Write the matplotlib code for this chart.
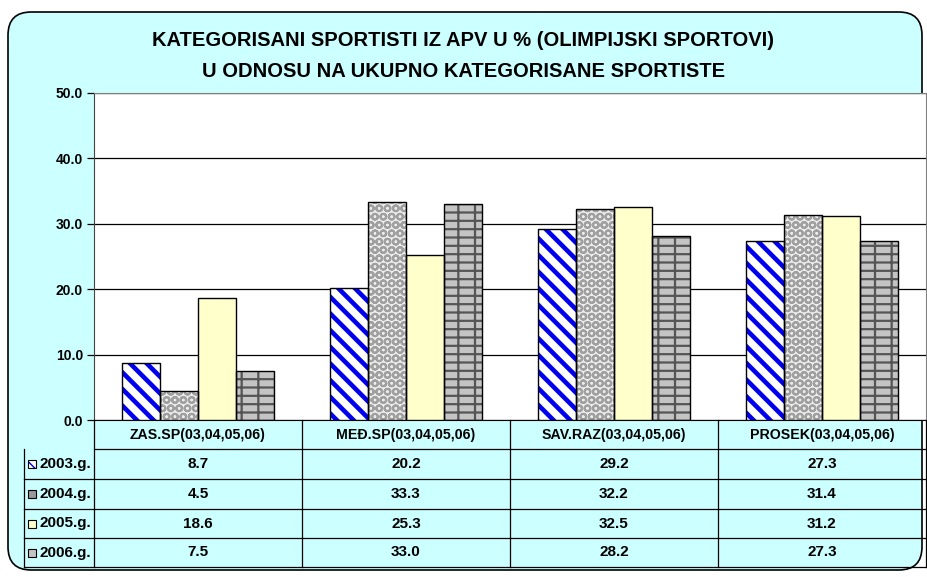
import numpy as np
import matplotlib
matplotlib.use("Agg")
import matplotlib.pyplot as plt
from matplotlib.patches import FancyBboxPatch, Rectangle
from matplotlib.lines import Line2D

# podaci
categories = ["ZAS.SP(03,04,05,06)", "MEĐ.SP(03,04,05,06)", "SAV.RAZ(03,04,05,06)", "PROSEK(03,04,05,06)"]
series_names = ["2003.g.", "2004.g.", "2005.g.", "2006.g."]
v2003 = [8.7, 20.2, 29.2, 27.3]
v2004 = [4.5, 33.3, 32.2, 31.4]
v2005 = [18.6, 25.3, 32.5, 31.2]
v2006 = [7.5, 33.0, 28.2, 27.3]
values = [v2003, v2004, v2005, v2006]
yticks = [0, 10, 20, 30, 40, 50]

title = "KATEGORISANI SPORTISTI IZ APV U % (OLIMPIJSKI SPORTOVI)\nU ODNOSU NA UKUPNO KATEGORISANE SPORTISTE"

# stilovi: (boja, šrafura, boja šrafure, debljina)
styles = [
    ("white", "\\\\", "#0000EE", 3.3),
    ("#EEEEEE", "OO", "#A0A0A0", 1.5),
    ("#FFFFCC", "", "black", 1.0),
    ("#C4C4C4", "--|", "#555555", 1.6),
]

W, H = 927, 577
fig = plt.figure(figsize=(W / 100, H / 100), dpi=100)
plt.rcParams["font.family"] = ["Liberation Sans", "DejaVu Sans"]


def fx(x):
    return x / W


def fy(y):
    return 1 - y / H


# pozadina - zaobljeni okvir
box = FancyBboxPatch((fx(8), fy(570)), fx(914), (570 - 12) / H,
                     boxstyle="round,pad=0,rounding_size=0.025",
                     transform=fig.transFigure, facecolor="#CCFFFF",
                     edgecolor="black", linewidth=1.2, mutation_aspect=W / H, zorder=-5)
fig.add_artist(box)

fig.text(0.5, fy(56), title, ha="center", va="center", fontsize=14.5,
         fontweight="bold", linespacing=1.75)

left, top, right, bottom = 94, 93, 926, 420
ax = fig.add_axes([fx(left), fy(bottom), (right - left) / W, (bottom - top) / H])
ax.set_facecolor("white")

x = np.arange(len(categories))
bw = 0.183
for i, (vals, st) in enumerate(zip(values, styles)):
    fc, hatch, hc, hlw = st
    pos = x + (i - 1.5) * bw
    bars = ax.bar(pos, vals, bw, color=fc, hatch=hatch, edgecolor=hc, linewidth=0, zorder=3)
    for b in bars:
        if hasattr(b, "set_hatch_linewidth"):
            b.set_hatch_linewidth(hlw)
    ax.bar(pos, vals, bw, fill=False, edgecolor="black", linewidth=1.0, zorder=4)

ax.set_xlim(-0.5, len(categories) - 0.5)
ax.set_ylim(0, 50)
ax.set_yticks(yticks)
ax.set_yticklabels([f"{t:.1f}" for t in yticks], fontsize=10, fontweight="bold")
ax.set_xticks([])
ax.yaxis.grid(True, color="black", linewidth=0.9, zorder=0)
ax.tick_params(axis="y", length=5, width=0.9, pad=3)
for s in ["top", "right"]:
    ax.spines[s].set_color("#808080")
ax.spines["left"].set_color("#444444")
ax.spines["bottom"].set_color("black")

# tabela podataka
col_w = (right - left) / len(categories)
rows_y = [420, 449, 479, 509, 538, 567]
lines = []
lines.append(((left, right), (449, 449)))
for y in rows_y[2:]:
    lines.append(((24, right), (y, y)))
lines.append(((24, 24), (449, 567)))
for k in range(len(categories) + 1):
    xx = left + k * col_w
    lines.append(((xx, xx), (420, 567)))
for (xs, ys) in lines:
    fig.add_artist(Line2D([fx(v) for v in xs], [fy(v) for v in ys],
                          color="black", linewidth=0.9, transform=fig.transFigure))

for k, cat in enumerate(categories):
    cx = left + (k + 0.5) * col_w
    fig.text(fx(cx), fy(435), cat, ha="center", va="center", fontsize=10.2,
             fontweight="bold")
    for r, vals in enumerate(values):
        cy = (rows_y[r + 1] + rows_y[r + 2]) / 2
        fig.text(fx(cx), fy(cy), f"{vals[k]:.1f}", ha="center", va="center",
                 fontsize=11, fontweight="bold")

for r, (name, st) in enumerate(zip(series_names, styles)):
    fc, hatch, hc, hlw = st
    cy = (rows_y[r + 1] + rows_y[r + 2]) / 2
    if r == 0:
        fig.add_artist(Rectangle((fx(28), fy(cy + 4)), 8 / W, 8 / H, facecolor="white",
                                 hatch="\\", edgecolor="#0000EE", linewidth=0,
                                 transform=fig.transFigure))
        fig.add_artist(Rectangle((fx(28), fy(cy + 4)), 8 / W, 8 / H, fill=False,
                                 edgecolor="black", linewidth=0.8, transform=fig.transFigure))
    else:
        fig.add_artist(Rectangle((fx(28), fy(cy + 4)), 8 / W, 8 / H, facecolor=fc if r != 1 else "#999999",
                                 edgecolor="black", linewidth=0.8, transform=fig.transFigure))
    fig.text(fx(39), fy(cy), name, ha="left", va="center", fontsize=11,
             fontweight="bold")

fig.savefig("out.png", dpi=100)
